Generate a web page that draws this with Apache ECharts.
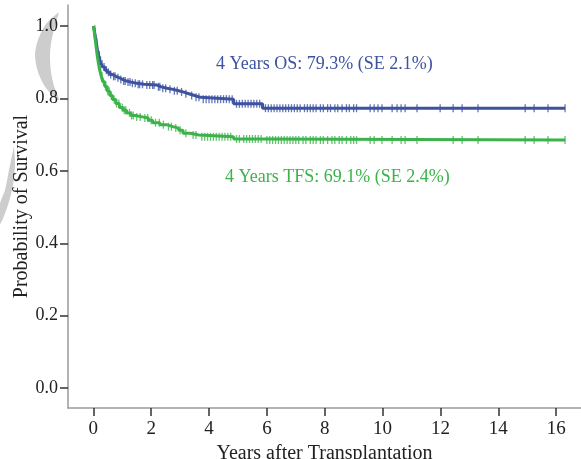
<!DOCTYPE html>
<html>
<head>
<meta charset="utf-8">
<script src="https://cdn.jsdelivr.net/npm/echarts@6/dist/echarts.min.js"></script>
<style>
  html, body { margin: 0; padding: 0; background: #fff; }
  #chart { width: 581px; height: 459px; }
</style>
</head>
<body>
<div id="chart"></div>
<script>
// Kaplan-Meier steps: [years, survival after event]
const osSteps = [
  [0, 1.0], [0.03, 0.99], [0.06, 0.975], [0.1, 0.955], [0.14, 0.935], [0.18, 0.92],
  [0.22, 0.905], [0.27, 0.895], [0.33, 0.887], [0.4, 0.878], [0.48, 0.872], [0.57, 0.866],
  [0.66, 0.861], [0.78, 0.857], [0.9, 0.852], [1.02, 0.848], [1.15, 0.845], [1.3, 0.842],
  [1.5, 0.839], [1.75, 0.837], [2.2, 0.832], [2.35, 0.828], [2.55, 0.825], [2.75, 0.821],
  [2.95, 0.818], [3.1, 0.813], [3.3, 0.808], [3.5, 0.803], [3.7, 0.798], [4.85, 0.785],
  [5.85, 0.773], [16.31, 0.773]
];
const tfsSteps = [
  [0, 1.0], [0.03, 0.985], [0.06, 0.965], [0.1, 0.94], [0.14, 0.915], [0.18, 0.895],
  [0.22, 0.878], [0.27, 0.862], [0.33, 0.846], [0.4, 0.833], [0.48, 0.82], [0.57, 0.808],
  [0.66, 0.797], [0.78, 0.786], [0.9, 0.775], [1.02, 0.767], [1.15, 0.76], [1.3, 0.753],
  [1.45, 0.749], [1.7, 0.746], [1.9, 0.74], [2.05, 0.733], [2.3, 0.727], [2.55, 0.722],
  [2.75, 0.718], [2.95, 0.712], [3.1, 0.704], [3.35, 0.699], [3.65, 0.694], [4.85, 0.688],
  [5.9, 0.685], [16.31, 0.685]
];

// censored times (years)
const osCensor = [
  0.05, 0.12, 0.2, 0.25, 0.3, 0.37, 0.45, 0.52, 0.6, 0.7, 0.75, 0.85, 0.95, 1.05, 1.1, 1.2,
  1.27, 1.35, 1.45, 1.55, 1.6, 1.7, 1.85, 1.95, 2.05, 2.1, 2.25, 2.3,
  2.4, 2.5, 2.65, 2.8, 2.9, 3.05, 3.2, 3.4, 3.55, 3.65, 3.8, 3.9, 4.0, 4.1, 4.2, 4.3, 4.4,
  4.5, 4.6, 4.7, 4.8, 4.95, 5.05, 5.15, 5.25, 5.35, 5.45, 5.55, 5.65, 5.75, 5.95, 6.05,
  6.15, 6.25, 6.35, 6.45, 6.55, 6.65, 6.75, 6.85, 6.95, 7.05, 7.15, 7.3, 7.4, 7.5, 7.6,
  7.7, 7.85, 7.95, 8.1, 8.2, 8.35, 8.45, 8.6, 8.75, 8.85, 9.0, 9.1, 9.57, 9.71, 9.84,
  9.98, 10.33, 10.5, 10.64, 10.78, 11.19, 11.99, 12.44, 12.75, 13.3, 14.93, 15.24, 15.72,
  16.31
];
const tfsCensor = [
  0.04, 0.08, 0.12, 0.16, 0.2, 0.25, 0.3, 0.35, 0.42, 0.5, 0.55, 0.62, 0.72, 0.8, 0.88,
  1.0, 1.07, 1.12, 1.25, 1.32, 1.38, 1.5, 1.62, 1.78, 1.88, 2.0, 2.15,
  2.28, 2.42, 2.6, 2.7, 2.85, 3.0, 3.2, 3.45, 3.55, 3.75, 3.85, 3.95, 4.05, 4.15, 4.25,
  4.35, 4.45, 4.55, 4.65, 4.75, 4.95, 5.05, 5.2, 5.3, 5.4, 5.5, 5.6, 5.7, 5.8, 6.0, 6.1,
  6.2, 6.3, 6.4, 6.5, 6.6, 6.7, 6.8, 6.9, 7.0, 7.1, 7.25, 7.35, 7.5, 7.6, 7.7, 7.85, 7.95,
  8.1, 8.25, 8.35, 8.5, 8.6, 8.75, 8.9, 9.0, 9.1, 9.57, 9.71, 9.98, 10.33, 10.64, 10.78,
  11.19, 12.44, 12.75, 13.3, 14.93, 15.24, 15.72, 16.31
];

const xTicks = [0, 2, 4, 6, 8, 10, 12, 14, 16];
const yTicks = [0, 0.2, 0.4, 0.6, 0.8, 1.0];

const BLUE = '#3d52a1';
const GREEN = '#3cb34a';
const FONT = 'Liberation Serif';

function survAt(steps, t) {
  let s = steps[0][1];
  for (const [st, sv] of steps) {
    if (st <= t) s = sv; else break;
  }
  return s;
}

const chart = echarts.init(document.getElementById('chart'));

const axisCommon = {
  type: 'value',
  splitLine: { show: false },
  axisLine: { show: true, onZero: false, lineStyle: { color: '#9a9a9a', width: 1.5 } },
  axisTick: { show: true, length: 8, lineStyle: { color: '#333', width: 1.5 } },
  nameLocation: 'middle',
  nameMoveOverlap: false,
  nameTextStyle: { fontFamily: FONT, fontSize: 20, color: '#222' }
};

chart.setOption({
  animation: false,
  backgroundColor: '#fff',
  grid: { left: 68, right: 0, top: 5, bottom: 51, containLabel: false, outerBoundsMode: 'none' },
  xAxis: Object.assign({}, axisCommon, {
    min: -0.876,
    max: 16.86,
    name: 'Years after Transplantation',
    nameGap: 36,
    axisTick: Object.assign({}, axisCommon.axisTick, { customValues: xTicks }),
    axisLabel: { customValues: xTicks, margin: 12, fontFamily: FONT, fontSize: 19, color: '#222' }
  }),
  yAxis: Object.assign({}, axisCommon, {
    min: -0.055,
    max: 1.058,
    name: 'Probability of Survival',
    nameGap: 36,
    nameRotate: 90,
    axisTick: Object.assign({}, axisCommon.axisTick, { customValues: yTicks }),
    axisLabel: {
      customValues: yTicks, margin: 10, fontFamily: FONT, fontSize: 18, color: '#222',
      formatter: v => v.toFixed(1)
    }
  }),
  graphic: [
    // faint logo watermark at the left edge
    {
      type: 'polygon', z: -1,
      shape: {
        smooth: 0.3,
        points: [[59, 12], [46, 24], [38, 40], [35, 55], [38, 72], [46, 88], [59, 100],
                 [54, 86], [51, 72], [50, 55], [52, 38], [59, 12]]
      },
      style: { fill: '#cdcdcd' }
    },
    {
      type: 'polygon', z: -1,
      shape: {
        smooth: 0.3,
        points: [[14, 146], [15, 165], [13, 185], [8, 205], [0, 224], [0, 204],
                 [5, 190], [9, 170], [14, 146]]
      },
      style: { fill: '#cdcdcd' }
    },
    {
      type: 'text', left: 216, top: 55,
      style: { text: '4 Years OS: 79.3% (SE 2.1%)', fill: BLUE, font: '18px "Liberation Serif"' }
    },
    {
      type: 'text', left: 225, top: 168,
      style: { text: '4 Years TFS: 69.1% (SE 2.4%)', fill: GREEN, font: '18px "Liberation Serif"' }
    }
  ],
  series: [
    {
      name: 'OS', type: 'line', step: 'end', data: osSteps, symbol: 'none',
      lineStyle: { color: BLUE, width: 3 }
    },
    {
      name: 'OS censored', type: 'scatter', symbol: 'rect', symbolSize: [1.3, 8],
      data: osCensor.map(t => [t, survAt(osSteps, t)]),
      itemStyle: { color: BLUE }
    },
    {
      name: 'TFS', type: 'line', step: 'end', data: tfsSteps, symbol: 'none',
      lineStyle: { color: GREEN, width: 3 }
    },
    {
      name: 'TFS censored', type: 'scatter', symbol: 'rect', symbolSize: [1.3, 8],
      data: tfsCensor.map(t => [t, survAt(tfsSteps, t)]),
      itemStyle: { color: GREEN }
    }
  ]
});

window.addEventListener('resize', () => chart.resize());
</script>
</body>
</html>
